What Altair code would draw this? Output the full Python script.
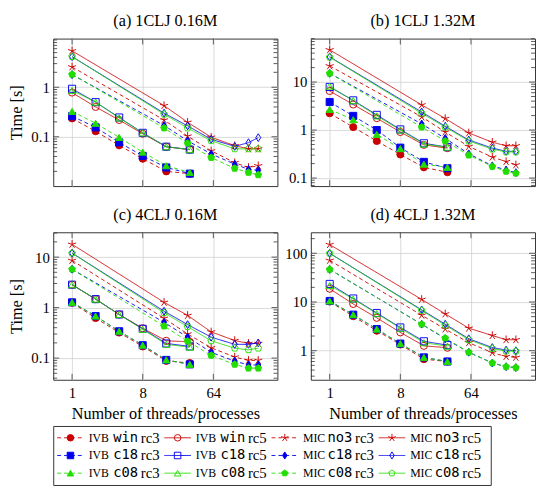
import altair as alt
import pandas as pd

# ---------------- data ----------------
THREADS_IVB = [1, 2, 4, 8, 16, 32]
THREADS_MIC = [1, 15, 30, 60, 120, 180, 240]

SERIES = ["IVB win rc3", "IVB win rc5", "MIC no3 rc3", "MIC no3 rc5",
          "IVB c18 rc3", "IVB c18 rc5", "MIC c18 rc3", "MIC c18 rc5",
          "IVB c08 rc3", "IVB c08 rc5", "MIC c08 rc3", "MIC c08 rc5"]

# values per series, in SERIES order
TIMES_A = [
    [0.235, 0.129, 0.067, 0.036, 0.020, 0.018],
    [0.78, 0.40, 0.218, 0.115, 0.063, 0.055],
    [2.57, 0.218, 0.103, 0.052, 0.030, 0.024, 0.026],
    [5.43, 0.426, 0.196, 0.098, 0.066, 0.057, 0.057],
    [0.26, 0.155, 0.077, 0.041, 0.024, 0.018],
    [0.93, 0.50, 0.245, 0.12, 0.063, 0.055],
    [1.80, 0.169, 0.083, 0.045, 0.028, 0.022, 0.021],
    [4.15, 0.30, 0.166, 0.089, 0.064, 0.076, 0.096],
    [0.326, 0.187, 0.097, 0.049, 0.026, 0.019],
    [0.86, 0.50, 0.24, 0.12, 0.063, 0.055],
    [1.82, 0.15, 0.074, 0.038, 0.023, 0.019, 0.017],
    [4.15, 0.285, 0.15, 0.083, 0.057, 0.057, 0.057],
]
TIMES_B = [
    [2.23, 1.15, 0.59, 0.31, 0.167, 0.132],
    [6.5, 3.4, 1.77, 0.91, 0.49, 0.42],
    [21.7, 1.88, 0.91, 0.455, 0.273, 0.22, 0.188],
    [46.9, 3.34, 1.74, 0.87, 0.556, 0.47, 0.47],
    [3.84, 1.97, 1.0, 0.43, 0.217, 0.16],
    [7.9, 4.15, 2.07, 1.03, 0.53, 0.44],
    [15.2, 1.34, 0.67, 0.32, 0.18, 0.147, 0.13],
    [33.4, 2.38, 1.2, 0.62, 0.42, 0.36, 0.36],
    [2.69, 1.64, 0.81, 0.41, 0.194, 0.167],
    [8.2, 4.1, 1.97, 1.0, 0.51, 0.44],
    [15.2, 1.15, 0.59, 0.30, 0.174, 0.138, 0.126],
    [33.0, 2.23, 1.15, 0.59, 0.40, 0.35, 0.35],
]
TIMES_C = [
    [1.25, 0.62, 0.32, 0.17, 0.088, 0.08],
    [2.84, 1.47, 0.73, 0.39, 0.22, 0.21],
    [8.57, 0.615, 0.30, 0.16, 0.105, 0.09, 0.09],
    [17.9, 1.27, 0.70, 0.33, 0.223, 0.195, 0.195],
    [1.27, 0.68, 0.34, 0.18, 0.092, 0.075],
    [2.84, 1.47, 0.73, 0.38, 0.195, 0.17],
    [5.75, 0.51, 0.26, 0.13, 0.087, 0.073, 0.073],
    [12.0, 0.85, 0.46, 0.26, 0.187, 0.187, 0.20],
    [1.27, 0.68, 0.34, 0.18, 0.092, 0.075],
    [2.84, 1.47, 0.73, 0.37, 0.187, 0.164],
    [5.75, 0.43, 0.216, 0.113, 0.075, 0.063, 0.063],
    [12.0, 0.79, 0.42, 0.22, 0.157, 0.146, 0.157],
]
TIMES_D = [
    [10.2, 5.1, 2.57, 1.34, 0.67, 0.60],
    [18.7, 9.1, 4.73, 2.38, 1.26, 1.15],
    [71.5, 5.35, 2.78, 1.46, 0.91, 0.76, 0.73],
    [151, 11.3, 5.7, 2.9, 2.05, 1.68, 1.68],
    [10.5, 5.5, 2.78, 1.40, 0.73, 0.60],
    [23.5, 11.8, 5.95, 3.0, 1.56, 1.3],
    [46.6, 3.5, 1.76, 0.93, 0.56, 0.47, 0.45],
    [100, 6.9, 3.5, 1.76, 1.16, 1.03, 1.0],
    [10.5, 5.5, 2.78, 1.40, 0.73, 0.60],
    [21.8, 11.5, 5.78, 2.9, 1.46, 1.24],
    [46.6, 3.5, 1.81, 0.93, 0.56, 0.47, 0.45],
    [100, 6.7, 3.33, 1.68, 1.11, 0.98, 0.98],
]

TITLES = ["(a) 1CLJ 0.16M", "(b) 1CLJ 1.32M", "(c) 4CLJ 0.16M", "(d) 4CLJ 1.32M"]
Y_DOMAINS = [[0.0101, 9.6], [0.068, 80.4], [0.0372, 31.0], [0.253, 270.0]]
X_TICKS = [1, 8, 64]

# ---------------- style ----------------
SERIF = "Liberation Serif"
MONO = "DejaVu Sans Mono"
RED, BLUE, GREEN = "#c80000", "#0000ee", "#22dd00"
FRAME = "#333333"
W, H = 228, 150
XDOM = [2 ** -0.8, 2 ** 8.72]
TFS = 16.5   # title font size
LFS = 15     # tick label font size

STAR = ("M0,0L0,-1.2M0,0L1.14,-0.37M0,0L0.71,0.97M0,0"
        "L-0.71,0.97M0,0L-1.14,-0.37")
DIAM = "M0,-1.1L0.7,0L0,1.1L-0.7,0Z"
PENT = "M0,-1L0.951,-0.309L0.588,0.809L-0.588,0.809L-0.951,-0.309Z"

COLORS = [RED] * 4 + [BLUE] * 4 + [GREEN] * 4
DASHES = [[4, 3], [1, 0]] * 6
SHAPES = ["circle", "circle", STAR, STAR, "square", "square", DIAM, DIAM,
          "triangle-up", "triangle-up", PENT, PENT]
FILLS = [c if i % 2 == 0 else "transparent" for i, c in enumerate(COLORS)]

COLOR = alt.Color("series:N", scale=alt.Scale(domain=SERIES, range=COLORS), legend=None)
STROKE = alt.Stroke("series:N", scale=alt.Scale(domain=SERIES, range=COLORS), legend=None)
DASH = alt.StrokeDash("series:N", scale=alt.Scale(domain=SERIES, range=DASHES), legend=None)
SHAPE = alt.Shape("series:N", scale=alt.Scale(domain=SERIES, range=SHAPES), legend=None)
FILL = alt.Fill("series:N", scale=alt.Scale(domain=SERIES, range=FILLS), legend=None)


def make_df(times):
    rows = []
    for s, vals in zip(SERIES, times):
        th = THREADS_IVB if s.startswith("IVB") else THREADS_MIC
        for t, v in zip(th, vals):
            rows.append({"series": s, "threads": t, "time": v})
    return pd.DataFrame(rows)


def log_ticks(lo, hi):
    major, minor = [], []
    for k in range(-3, 4):
        for m in range(1, 10):
            v = round(m * 10.0 ** k, 8)
            if lo <= v <= hi:
                (major if m == 1 else minor).append(v)
    return major, minor


def panel(times, title, ydom, bottom, left):
    df = make_df(times)
    major, minor = log_ticks(*ydom)
    if bottom:
        X = alt.X("threads:Q",
                  scale=alt.Scale(type="log", base=2, domain=XDOM, nice=False),
                  axis=alt.Axis(values=X_TICKS, format="d", grid=True,
                                labelPadding=6, titlePadding=5),
                  title="Number of threads/processes")
    else:
        X = alt.X("threads:Q",
                  scale=alt.Scale(type="log", base=2, domain=XDOM, nice=False),
                  axis=alt.Axis(values=X_TICKS, grid=True, labels=False),
                  title=None)
    Y = alt.Y("time:Q",
              scale=alt.Scale(type="log", domain=ydom, nice=False),
              axis=alt.Axis(values=major, format="~g", grid=True,
                            labelPadding=4, titlePadding=2, minExtent=27),
              title="Time [s]" if left else None)

    base = alt.Chart(df)
    lines = base.mark_line(strokeWidth=0.9).encode(
        x=X, y=Y, color=COLOR, strokeDash=DASH, detail="series:N")
    points = base.mark_point(opacity=1, size=52, strokeWidth=0.95).encode(
        x=X, y=Y, shape=SHAPE, stroke=STROKE, fill=FILL)

    ymin = alt.Chart(pd.DataFrame({"time": minor}))
    ymaj = alt.Chart(pd.DataFrame({"time": major}))
    xmaj = alt.Chart(pd.DataFrame({"threads": X_TICKS}))
    rk = dict(color=FRAME, strokeWidth=0.8)
    ticks = [
        ymin.mark_rule(**rk).encode(y=Y, x=alt.value(0), x2=alt.value(4)),
        ymin.mark_rule(**rk).encode(y=Y, x=alt.value(W - 4), x2=alt.value(W)),
        ymaj.mark_rule(**rk).encode(y=Y, x=alt.value(0), x2=alt.value(6)),
        ymaj.mark_rule(**rk).encode(y=Y, x=alt.value(W - 6), x2=alt.value(W)),
        xmaj.mark_rule(**rk).encode(x=X, y=alt.value(H - 6), y2=alt.value(H)),
        xmaj.mark_rule(**rk).encode(x=X, y=alt.value(0), y2=alt.value(6)),
    ]
    return alt.layer(lines, *ticks, points).properties(
        width=W, height=H,
        title=alt.TitleParams(title, anchor="middle", frame="group", offset=9,
                              font=SERIF, fontSize=TFS, fontWeight="normal"))


pa = panel(TIMES_A, TITLES[0], Y_DOMAINS[0], False, True)
pb = panel(TIMES_B, TITLES[1], Y_DOMAINS[1], False, False)
pc = panel(TIMES_C, TITLES[2], Y_DOMAINS[2], True, True)
pd_ = panel(TIMES_D, TITLES[3], Y_DOMAINS[3], True, False)

# ---------------- legend ----------------
leg = pd.DataFrame({
    "series": SERIES,
    "row": [i // 4 for i in range(len(SERIES))],
    "col": [i % 4 for i in range(len(SERIES))],
    "arch": [s.split()[0] for s in SERIES],
    "variant": [s.split()[1] for s in SERIES],
    "rc": [s.split()[2] for s in SERIES],
})
LW, LH = 445, 60
LX = alt.X("col:Q", scale=alt.Scale(domain=[0, 3], range=[4, 4 + 3 * 109]), axis=None)
# empty left axis only reserves room so that the box starts where the original does
LY = alt.Y("row:Q", scale=alt.Scale(domain=[0, 2], range=[12, 48]),
           axis=alt.Axis(labels=False, ticks=False, domain=False, grid=False,
                         minExtent=34, maxExtent=34),
           title=None)
lb = alt.Chart(leg)
legend = alt.layer(
    lb.mark_rule(x2Offset=27, strokeWidth=0.9).encode(
        x=LX, x2=alt.X2("col"), y=LY, color=COLOR, strokeDash=DASH),
    lb.mark_point(xOffset=13.5, opacity=1, size=44, strokeWidth=0.95).encode(
        x=LX, y=LY, shape=SHAPE, stroke=STROKE, fill=FILL),
    lb.mark_text(xOffset=32, align="left", baseline="middle", font=SERIF,
                 fontSize=12, color="black").encode(x=LX, y=LY, text="arch:N"),
    lb.mark_text(xOffset=57, align="left", baseline="middle", font=MONO,
                 fontSize=14, color="black").encode(x=LX, y=LY, text="variant:N"),
    lb.mark_text(xOffset=85, align="left", baseline="middle", font=SERIF,
                 fontSize=15, color="black").encode(x=LX, y=LY, text="rc:N"),
).properties(width=LW, height=LH)

grid = alt.vconcat(
    alt.hconcat(pa, pb, spacing=5).resolve_scale(x="independent", y="independent"),
    alt.hconcat(pc, pd_, spacing=5).resolve_scale(x="independent", y="independent"),
    spacing=19,
).resolve_scale(x="independent", y="independent")

chart = alt.vconcat(
    grid, legend, spacing=3,
).resolve_scale(x="independent", y="independent").properties(
    padding={"left": 0, "top": 0, "right": 0, "bottom": 0}
).configure_view(
    stroke=FRAME, strokeWidth=1
).configure_axis(
    labelFont=SERIF, titleFont=SERIF, labelFontSize=LFS, titleFontSize=TFS,
    titleFontWeight="normal", labelColor="black", titleColor="black",
    gridColor="#d0d0d0", gridWidth=0.8, domain=False, ticks=False
).configure_title(
    font=SERIF, fontSize=TFS, fontWeight="normal", color="black"
)

chart.save("out.html", embed_options={"renderer": "svg", "actions": False})
